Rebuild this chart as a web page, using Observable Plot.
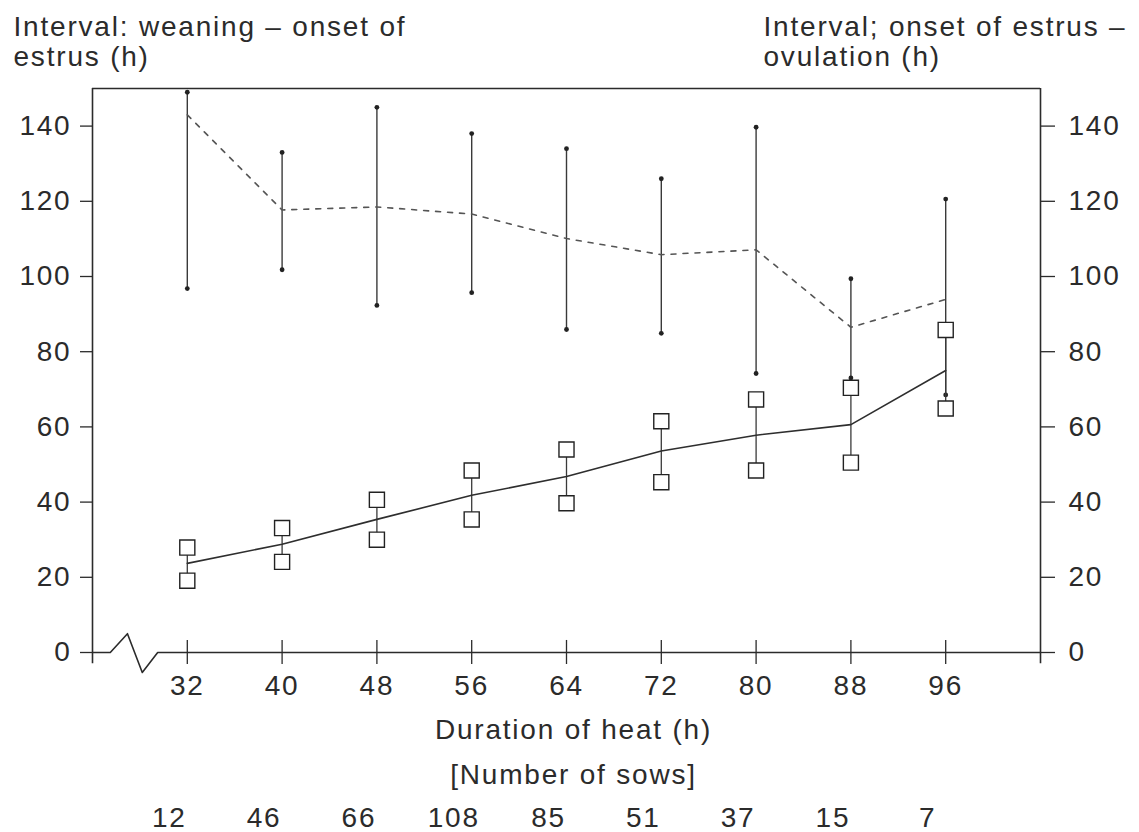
<!DOCTYPE html>
<html>
<head>
<meta charset="utf-8">
<script src="https://cdn.jsdelivr.net/npm/d3@7"></script>
<script src="https://cdn.jsdelivr.net/npm/@observablehq/plot@0.6"></script>
<style>
  html, body { margin: 0; padding: 0; background: #fff; }
  #chart svg { display: block; }
</style>
</head>
<body>
<div id="chart"></div>
<script>
// ---- data ----
const durations = [32, 40, 48, 56, 64, 72, 80, 88, 96];           // duration of heat (h)
const sows      = [12, 46, 66, 108, 85, 51, 37, 15, 7];          // number of sows
// Interval weaning – onset of estrus (dashed line, range bars)
const weanMean  = [143, 117.7, 118.5, 116.6, 110.1, 105.8, 107.1, 86.5, 93.9];
const weanMin   = [96.8, 101.8, 92.3, 95.7, 85.9, 84.9, 74.2, 73.0, 68.5];
const weanMax   = [149, 133, 145, 138, 134, 126, 139.7, 99.4, 120.6];
// Interval onset of estrus – ovulation (solid line, squares)
const ovuMean   = [23.7, 28.8, 35.4, 41.8, 46.8, 53.6, 57.8, 60.6, 75.0];
const ovuLow    = [19.1, 24.1, 30.0, 35.4, 39.7, 45.3, 48.4, 50.5, 64.9];
const ovuHigh   = [27.9, 33.1, 40.6, 48.4, 54.0, 61.5, 67.3, 70.4, 85.8];
const yTicks    = [0, 20, 40, 60, 80, 100, 120, 140];
const xDomain   = [24, 104];
const yDomain   = [0, 150];
// axis-break symbol on the x axis (data units)
const axisBreak = [[24, 0], [25.5, 0], [26.95, 5.0], [28.2, -5.3], [29.5, 0], [104, 0]];

const leftTitle  = "Interval: weaning – onset of\nestrus (h)";
const rightTitle = "Interval; onset of estrus –\novulation (h)";
const xTitle     = "Duration of heat (h)";
const sowsTitle  = "[Number of sows]";

// ---- tables built from the arrays ----
const rows = durations.map((d, i) => ({
  x: d, sows: sows[i],
  wMean: weanMean[i], wMin: weanMin[i], wMax: weanMax[i],
  oMean: ovuMean[i], oLow: ovuLow[i], oHigh: ovuHigh[i]
}));
const breakPts = axisBreak.map(([x, y]) => ({x, y}));

const ink = "#2b2b2b";
const FS = 28;

const chart = Plot.plot({
  width: 1139,
  height: 832,
  marginLeft: 92,
  marginRight: 99,
  marginTop: 88,
  marginBottom: 180,
  style: {fontFamily: "'Liberation Sans', Arial, sans-serif", fontSize: FS + "px", color: ink, background: "#fff", letterSpacing: "1.8px"},
  x: {domain: xDomain, axis: null},
  y: {domain: yDomain, axis: null},
  marks: [
    // frame
    Plot.ruleY([yDomain[1]], {x1: xDomain[0], x2: xDomain[1], stroke: ink, strokeWidth: 1.6}),
    Plot.ruleX(xDomain, {y1: -3, y2: yDomain[1], stroke: ink, strokeWidth: 1.6}),
    // x axis line with break
    Plot.line(breakPts, {x: "x", y: "y", stroke: ink, strokeWidth: 1.6, curve: "linear"}),
    // upward part of the crossing x ticks
    Plot.ruleX(durations, {y1: 0, y2: 3.2, stroke: ink, strokeWidth: 1.3}),
    Plot.axisX(durations, {anchor: "bottom", tickSize: 12, tickPadding: 11, stroke: ink, strokeWidth: 1.3, fontSize: FS, fill: ink, label: null}),
    Plot.axisY(yTicks, {anchor: "left", tickSize: 12, tickPadding: 9, stroke: ink, strokeWidth: 1.3, fontSize: FS, fill: ink, label: null}),
    Plot.axisY(yTicks, {anchor: "right", tickSize: 14, tickPadding: 14, stroke: ink, strokeWidth: 1.3, fontSize: FS, fill: ink, label: null}),

    // weaning – onset of estrus: range bars + dashed mean line
    Plot.ruleX(rows, {x: "x", y1: "wMin", y2: "wMax", stroke: "#3a3a3a", strokeWidth: 1.4}),
    Plot.dot(rows, {x: "x", y: "wMin", r: 2.4, fill: "#222", stroke: null}),
    Plot.dot(rows, {x: "x", y: "wMax", r: 2.4, fill: "#222", stroke: null}),
    Plot.line(rows, {x: "x", y: "wMean", stroke: "#555", strokeWidth: 1.6, strokeDasharray: "5,7"}),

    // onset of estrus – ovulation: bars with squares + solid mean line
    Plot.ruleX(rows, {x: "x", y1: "oLow", y2: "oHigh", stroke: "#3a3a3a", strokeWidth: 1.3}),
    Plot.line(rows, {x: "x", y: "oMean", stroke: "#2e2e2e", strokeWidth: 1.6}),
    Plot.dot(rows, {x: "x", y: "oLow", symbol: "square", r: 8.5, fill: "#fff", stroke: "#222", strokeWidth: 1.4}),
    Plot.dot(rows, {x: "x", y: "oHigh", symbol: "square", r: 8.5, fill: "#fff", stroke: "#222", strokeWidth: 1.4}),

    // titles
    Plot.text([leftTitle], {frameAnchor: "top-left", dx: -79, dy: -73, textAnchor: "start", lineAnchor: "top", lineHeight: 1.05, fontSize: FS, fill: ink}),
    Plot.text([rightTitle], {frameAnchor: "top-right", dx: -277, dy: -73, textAnchor: "start", lineAnchor: "top", lineHeight: 1.05, fontSize: FS, fill: ink}),
    Plot.text([xTitle], {frameAnchor: "bottom", dx: 7, dy: 78, lineAnchor: "middle", fontSize: FS, fill: ink}),
    Plot.text([sowsTitle], {frameAnchor: "bottom", dx: 7, dy: 123, lineAnchor: "middle", fontSize: FS, fill: ink}),
    Plot.text(rows, {x: "x", text: d => String(d.sows), frameAnchor: "bottom", dx: -18, dy: 166, lineAnchor: "middle", fontSize: FS, fill: ink})
  ]
});
document.getElementById("chart").appendChild(chart);
</script>
</body>
</html>
